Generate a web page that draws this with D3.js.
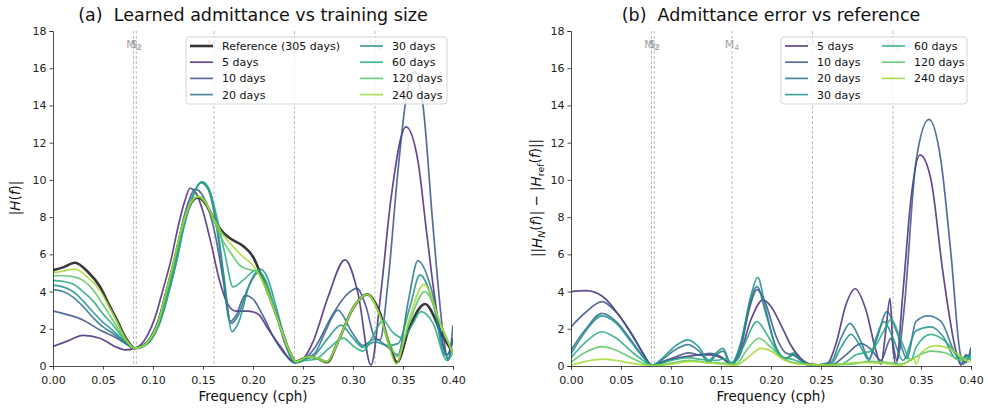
<!DOCTYPE html>
<html><head><meta charset="utf-8">
<script src="https://cdn.jsdelivr.net/npm/d3@7"></script>
<style>
body{margin:0;background:#fff}
svg{font-family:"DejaVu Sans","Noto Sans",sans-serif}
.title{white-space:pre}
</style>
</head><body>
<svg id="chart" width="988" height="408"></svg>
<script>
// ---- data -------------------------------------------------------------
const trainingLabels = ["5 days","10 days","20 days","30 days","60 days","120 days","240 days"];
const referenceLabel = "Reference (305 days)";

// tidal constituents (cph)
const tideNames = ["M2","S2","M4","M6","M8"];
const tideFreqs = [0.0805, 0.0833, 0.1610, 0.2415, 0.3220];

const xTicks = [0,0.05,0.10,0.15,0.20,0.25,0.30,0.35,0.40];
const yTicks = [0,2,4,6,8,10,12,14,16,18];

// |H(f)| for the reference model, [frequency, magnitude]
const refH = [[0,5.15],[0.01,5.3],[0.022,5.55],[0.035,5.05],[0.047,4.26],[0.056,3.3],[0.064,2.47],[0.074,1.4],[0.082,0.95],[0.09,1.08],[0.097,1.45],[0.104,2.15],[0.112,3.7],[0.121,5.6],[0.129,7.4],[0.137,8.65],[0.145,9.05],[0.152,8.75],[0.16,8.0],[0.168,7.3],[0.177,6.86],[0.19,6.45],[0.2,5.87],[0.21,4.62],[0.224,2.65],[0.236,0.86],[0.243,0.23],[0.255,0.5],[0.264,0.42],[0.274,0.2],[0.285,1.3],[0.30,3.1],[0.314,3.85],[0.327,2.83],[0.337,1.04],[0.344,0.2],[0.356,2.0],[0.372,3.33],[0.39,1.58],[0.40,0.72]];

// |H(f)| learned from each training length
const h5 = [[0,1.05],[0.015,1.35],[0.03,1.65],[0.047,1.49],[0.064,1.0],[0.072,0.87],[0.082,0.95],[0.088,1.15],[0.095,1.7],[0.102,2.6],[0.11,4.1],[0.118,5.7],[0.126,7.7],[0.132,8.9],[0.137,9.55],[0.143,9.3],[0.15,8.3],[0.158,6.6],[0.166,4.7],[0.175,3.3],[0.183,2.95],[0.195,2.95],[0.205,2.8],[0.215,2.0],[0.228,1.0],[0.24,0.25],[0.248,0.3],[0.26,1.3],[0.275,3.7],[0.292,5.7],[0.305,3.9],[0.318,0.05],[0.328,4.0],[0.338,9.0],[0.353,12.85],[0.365,11.0],[0.374,7.0],[0.385,2.5],[0.394,0.6],[0.40,1.5]];
const h10 = [[0,2.95],[0.015,2.75],[0.03,2.47],[0.047,1.93],[0.064,1.49],[0.075,1.12],[0.082,0.95],[0.089,1.05],[0.097,1.5],[0.105,2.4],[0.113,3.9],[0.122,5.8],[0.13,7.8],[0.136,8.9],[0.142,9.5],[0.148,9.3],[0.155,8.5],[0.162,7.1],[0.17,4.7],[0.177,2.4],[0.183,2.7],[0.192,3.8],[0.2,3.6],[0.21,2.7],[0.222,1.4],[0.234,0.5],[0.242,0.15],[0.25,0.3],[0.262,1.0],[0.28,2.8],[0.295,3.9],[0.304,4.17],[0.313,3.2],[0.322,1.5],[0.327,1.4],[0.335,4.5],[0.345,10.5],[0.355,15.0],[0.362,15.8],[0.37,14.0],[0.38,7.5],[0.39,1.8],[0.395,0.3],[0.40,2.2]];
const h20 = [[0,4.1],[0.01,4.0],[0.02,3.7],[0.03,3.2],[0.04,2.6],[0.05,2.1],[0.06,1.75],[0.07,1.35],[0.082,0.95],[0.09,1.05],[0.098,1.45],[0.106,2.3],[0.114,3.8],[0.123,5.6],[0.131,7.6],[0.139,9.0],[0.148,9.85],[0.155,9.5],[0.162,8.0],[0.17,5.0],[0.178,2.3],[0.185,2.7],[0.195,4.2],[0.205,5.0],[0.212,4.6],[0.222,3.0],[0.232,1.2],[0.242,0.2],[0.252,0.4],[0.262,0.7],[0.272,1.8],[0.285,3.0],[0.298,1.9],[0.31,1.1],[0.322,1.45],[0.335,1.0],[0.345,0.6],[0.355,3.4],[0.365,5.66],[0.378,4.2],[0.39,1.2],[0.395,0.4],[0.40,1.5]];
const h30 = [[0,4.35],[0.01,4.25],[0.02,4.0],[0.03,3.5],[0.04,2.9],[0.05,2.35],[0.06,1.9],[0.07,1.4],[0.082,0.95],[0.09,1.05],[0.098,1.4],[0.106,2.2],[0.114,3.6],[0.123,5.5],[0.131,7.5],[0.139,9.0],[0.149,9.9],[0.156,9.5],[0.163,8.0],[0.171,4.8],[0.179,1.85],[0.186,2.4],[0.196,4.3],[0.207,5.2],[0.214,4.8],[0.224,3.0],[0.234,1.1],[0.242,0.2],[0.252,0.35],[0.262,0.6],[0.275,1.5],[0.288,2.2],[0.30,1.5],[0.31,1.0],[0.322,1.3],[0.335,1.1],[0.345,1.2],[0.357,3.2],[0.367,4.9],[0.38,3.4],[0.392,0.6],[0.40,0.8]];
const h60 = [[0,4.6],[0.01,4.55],[0.02,4.4],[0.03,4.0],[0.04,3.5],[0.05,2.8],[0.06,2.2],[0.07,1.5],[0.082,0.95],[0.09,1.05],[0.098,1.4],[0.106,2.2],[0.114,3.6],[0.123,5.5],[0.131,7.5],[0.139,9.0],[0.149,9.9],[0.156,9.5],[0.163,8.2],[0.172,6.0],[0.18,4.25],[0.19,4.6],[0.203,5.15],[0.212,4.7],[0.222,3.0],[0.234,1.1],[0.242,0.2],[0.252,0.3],[0.262,0.35],[0.275,0.9],[0.29,1.5],[0.302,1.0],[0.31,0.8],[0.32,1.6],[0.33,2.45],[0.34,1.8],[0.35,1.5],[0.36,2.3],[0.368,2.92],[0.38,2.3],[0.394,0.3],[0.40,0.7]];
const h120 = [[0,4.85],[0.01,4.85],[0.02,4.8],[0.03,4.6],[0.04,4.1],[0.047,3.55],[0.056,2.8],[0.064,2.11],[0.074,1.3],[0.082,0.95],[0.09,1.07],[0.097,1.45],[0.104,2.1],[0.112,3.6],[0.121,5.5],[0.129,7.4],[0.137,8.7],[0.146,9.1],[0.153,8.8],[0.16,7.9],[0.168,6.9],[0.177,6.14],[0.187,5.4],[0.195,5.2],[0.203,5.1],[0.212,4.4],[0.224,2.6],[0.236,0.86],[0.243,0.23],[0.255,0.5],[0.264,0.42],[0.274,0.25],[0.285,1.3],[0.30,3.1],[0.314,3.85],[0.327,2.7],[0.337,1.2],[0.344,0.5],[0.356,2.3],[0.372,4.0],[0.388,2.2],[0.40,0.7]];
const h240 = [[0,5.0],[0.01,5.1],[0.022,5.2],[0.035,4.75],[0.047,4.05],[0.056,3.2],[0.064,2.38],[0.074,1.35],[0.082,0.95],[0.09,1.07],[0.097,1.45],[0.104,2.15],[0.112,3.75],[0.121,5.7],[0.129,7.5],[0.137,8.7],[0.145,9.1],[0.152,8.8],[0.16,8.0],[0.168,7.2],[0.177,6.6],[0.19,5.87],[0.2,5.4],[0.21,4.5],[0.224,2.6],[0.236,0.86],[0.243,0.23],[0.255,0.5],[0.264,0.42],[0.274,0.22],[0.285,1.3],[0.30,3.1],[0.314,3.85],[0.327,2.7],[0.337,0.9],[0.343,0.1],[0.356,2.5],[0.371,4.39],[0.388,2.2],[0.40,0.65]];

// ||H_N(f)| - |H_ref(f)|| for each training length
const e5 = [[0,4.0],[0.015,4.05],[0.032,3.72],[0.049,2.65],[0.066,1.22],[0.075,0.4],[0.081,0.02],[0.09,0.15],[0.1,0.35],[0.115,0.5],[0.13,0.6],[0.14,0.6],[0.15,0.45],[0.16,0.15],[0.168,0.5],[0.18,2.5],[0.192,3.55],[0.2,3.2],[0.21,2.2],[0.22,1.1],[0.23,0.4],[0.24,0.1],[0.255,0.05],[0.265,1.2],[0.275,3.3],[0.284,4.15],[0.295,3.0],[0.305,0.8],[0.31,0.1],[0.315,2.0],[0.319,3.64],[0.322,1.0],[0.325,0.1],[0.332,4.0],[0.34,9.0],[0.349,11.34],[0.36,10.0],[0.372,5.0],[0.385,0.8],[0.39,0.05],[0.395,0.6],[0.40,0.3]];
const e10 = [[0,2.1],[0.015,2.9],[0.031,3.46],[0.045,2.9],[0.06,1.8],[0.072,0.7],[0.081,0.02],[0.09,0.2],[0.105,0.5],[0.118,0.7],[0.128,0.6],[0.139,0.68],[0.15,0.5],[0.16,0.1],[0.17,1.0],[0.178,3.0],[0.186,4.1],[0.195,3.3],[0.205,1.6],[0.215,0.7],[0.222,0.6],[0.23,0.3],[0.24,0.05],[0.26,0.05],[0.275,0.6],[0.29,1.2],[0.3,0.9],[0.31,0.3],[0.32,1.5],[0.326,0.3],[0.333,3.0],[0.345,11.0],[0.358,13.25],[0.37,11.0],[0.38,6.0],[0.39,0.5],[0.395,0.2],[0.40,1.0]];
const e20 = [[0,0.85],[0.015,2.0],[0.031,2.83],[0.045,2.4],[0.06,1.4],[0.072,0.5],[0.081,0.02],[0.09,0.3],[0.105,0.9],[0.117,1.15],[0.128,0.8],[0.138,0.2],[0.145,0.6],[0.152,0.8],[0.16,0.1],[0.17,1.2],[0.178,3.2],[0.186,4.26],[0.195,2.8],[0.205,1.0],[0.215,0.4],[0.222,0.6],[0.23,0.3],[0.24,0.05],[0.26,0.2],[0.27,1.5],[0.279,2.29],[0.29,1.3],[0.298,0.4],[0.306,1.5],[0.316,2.92],[0.326,1.8],[0.336,0.4],[0.345,2.4],[0.357,2.69],[0.37,2.4],[0.383,0.8],[0.392,0.1],[0.40,0.8]];
const e30 = [[0,0.65],[0.015,1.9],[0.031,2.69],[0.045,2.3],[0.06,1.3],[0.072,0.5],[0.081,0.02],[0.09,0.35],[0.105,1.1],[0.117,1.4],[0.128,1.0],[0.138,0.3],[0.145,0.7],[0.152,0.95],[0.16,0.1],[0.17,1.3],[0.18,3.8],[0.1867,4.76],[0.195,3.0],[0.205,1.0],[0.215,0.4],[0.222,0.7],[0.23,0.3],[0.24,0.05],[0.26,0.1],[0.27,1.0],[0.28,1.7],[0.29,1.0],[0.298,0.3],[0.305,1.5],[0.313,2.38],[0.322,1.5],[0.332,0.3],[0.345,1.9],[0.36,2.1],[0.372,1.6],[0.385,0.4],[0.40,0.6]];
const e60 = [[0,0.45],[0.015,1.3],[0.031,1.84],[0.045,1.5],[0.06,0.8],[0.072,0.3],[0.081,0.02],[0.1,0.3],[0.117,0.45],[0.13,0.35],[0.145,0.3],[0.155,0.4],[0.162,0.1],[0.172,1.0],[0.186,2.38],[0.197,1.6],[0.21,0.5],[0.222,0.35],[0.24,0.05],[0.27,0.1],[0.285,0.6],[0.3,0.8],[0.312,1.8],[0.32,2.5],[0.33,1.4],[0.34,0.3],[0.345,1.0],[0.36,1.7],[0.375,1.3],[0.39,0.4],[0.40,0.5]];
const e120 = [[0,0.2],[0.015,0.75],[0.031,1.04],[0.045,0.85],[0.06,0.45],[0.072,0.15],[0.081,0.02],[0.1,0.15],[0.117,0.3],[0.135,0.2],[0.155,0.15],[0.165,0.1],[0.175,0.8],[0.188,1.49],[0.2,1.0],[0.212,0.4],[0.225,0.15],[0.25,0.05],[0.28,0.1],[0.3,0.25],[0.315,0.2],[0.33,0.1],[0.345,0.5],[0.36,0.8],[0.375,0.7],[0.39,0.3],[0.40,0.4]];
const e240 = [[0,0.05],[0.015,0.25],[0.031,0.37],[0.045,0.3],[0.06,0.15],[0.081,0.02],[0.1,0.1],[0.12,0.25],[0.14,0.15],[0.165,0.05],[0.178,0.5],[0.19,0.95],[0.2,0.8],[0.212,0.35],[0.23,0.1],[0.26,0.05],[0.29,0.2],[0.31,0.15],[0.33,0.05],[0.343,0.4],[0.345,0.1],[0.35,0.7],[0.365,1.1],[0.38,0.9],[0.395,0.3],[0.40,0.2]];

const learned = [h5,h10,h20,h30,h60,h120,h240];
const errors  = [e5,e10,e20,e30,e60,e120,e240];

// ---- drawing ----------------------------------------------------------
const svg = d3.select("#chart");
const colorPos = [0.12,0.25,0.38,0.5,0.62,0.74,0.86];
const colors = colorPos.map(t => d3.interpolateViridis(t));
const plotTop = 31, plotBottom = 366;

function subText(sel, base, sub) {
  sel.append("tspan").text(base);
  sel.append("tspan").text(sub).attr("font-size","0.7em").attr("dy","0.25em");
}

function panel(left, right, title, lines, withRef) {
  const x = d3.scaleLinear().domain([0,0.40]).range([left,right]);
  const y = d3.scaleLinear().domain([0,18]).range([plotBottom,plotTop]);
  const g = svg.append("g");

  const clipId = "clip" + left;
  svg.append("clipPath").attr("id", clipId).append("rect")
     .attr("x", left).attr("y", plotTop - 2).attr("width", right - left).attr("height", plotBottom - plotTop + 2);

  // constituent markers
  tideFreqs.forEach((f, i) => {
    g.append("line").attr("x1", x(f)).attr("x2", x(f)).attr("y1", plotTop).attr("y2", plotBottom)
      .attr("stroke", "#9a9a9a").attr("stroke-width", 0.8).attr("stroke-dasharray", "3,2")
      .attr("opacity", 0.8);
    const t = g.append("text").attr("x", x(f)).attr("y", 48).attr("text-anchor", "middle")
      .attr("font-size", 11).attr("fill", "#999").attr("opacity", 0.9);
    subText(t, tideNames[i][0], tideNames[i].slice(1));
  });

  const line = d3.line().x(d => x(d[0])).y(d => y(d[1])).curve(d3.curveMonotoneX);
  const lg = g.append("g").attr("clip-path", `url(#${clipId})`);
  if (withRef) {
    lg.append("path").datum(refH).attr("d", line).attr("fill", "none")
      .attr("stroke", "#222").attr("stroke-width", 2.6).attr("opacity", 0.9);
  }
  lines.forEach((s, i) => {
    lg.append("path").datum(s).attr("d", line).attr("fill", "none")
      .attr("stroke", colors[i]).attr("stroke-width", 1.7).attr("opacity", 0.85);
  });

  // axes
  const xa = g.append("g").attr("transform", `translate(0,${plotBottom})`)
    .call(d3.axisBottom(x).tickValues(xTicks).tickFormat(d3.format(".2f")).tickSizeOuter(0).tickSize(3.5));
  const ya = g.append("g").attr("transform", `translate(${left},0)`)
    .call(d3.axisLeft(y).tickValues(yTicks).tickSizeOuter(0).tickSize(3.5));
  [xa, ya].forEach(a => {
    a.selectAll("text").attr("font-size", 11).attr("fill", "#222").attr("font-family", "DejaVu Sans");
    a.selectAll("line").attr("stroke", "#222").attr("stroke-width", 0.8);
    a.select(".domain").attr("stroke", "#222").attr("stroke-width", 0.8);
  });
  xa.selectAll("text").attr("dy", "1.05em");

  g.append("text").attr("class", "title").attr("x", (left + right) / 2).attr("y", 21)
    .attr("text-anchor", "middle").attr("font-size", 17.5).attr("fill", "#111").text(title);
  g.append("text").attr("x", (left + right) / 2).attr("y", 401).attr("text-anchor", "middle")
    .attr("font-size", 13.5).attr("fill", "#111").text("Frequency (cph)");
  return {g, x, y};
}

// ---- panel (a)
const pa = panel(53, 453, "(a)  Learned admittance vs training size", learned, true);
{
  const t = pa.g.append("text").attr("transform", "translate(20,198) rotate(-90)")
    .attr("text-anchor", "middle").attr("font-size", 13.5).attr("fill", "#111");
  t.append("tspan").text("|");
  t.append("tspan").text("H").attr("font-style", "italic");
  t.append("tspan").text("(");
  t.append("tspan").text("f").attr("font-style", "italic");
  t.append("tspan").text(")|");
}

// ---- panel (b)
const pb = panel(571, 971, "(b)  Admittance error vs reference", errors, false);
{
  const t = pb.g.append("text").attr("transform", "translate(542,198) rotate(-90)")
    .attr("text-anchor", "middle").attr("font-size", 13.5).attr("fill", "#111");
  t.append("tspan").text("||");
  t.append("tspan").text("H").attr("font-style", "italic");
  t.append("tspan").text("N").attr("font-style", "italic").attr("font-size", "0.7em").attr("dy", "0.3em");
  t.append("tspan").text("(").attr("dy", "-0.3em");
  t.append("tspan").text("f").attr("font-style", "italic");
  t.append("tspan").text(")| \u2212 |");
  t.append("tspan").text("H").attr("font-style", "italic");
  t.append("tspan").text("ref").attr("font-size", "0.7em").attr("dy", "0.3em");
  t.append("tspan").text("(").attr("dy", "-0.3em");
  t.append("tspan").text("f").attr("font-style", "italic");
  t.append("tspan").text(")||");
}

// ---- legends
function legend(x0, y0, w, entries, col2x) {
  const lg = svg.append("g");
  lg.append("rect").attr("x", x0).attr("y", y0).attr("width", w).attr("height", 67)
    .attr("rx", 3).attr("fill", "#fff").attr("fill-opacity", 0.8)
    .attr("stroke", "#cccccc").attr("stroke-width", 0.8);
  entries.forEach((e, i) => {
    const col = Math.floor(i / 4), row = i % 4;
    const lx = x0 + 4 + col * col2x, ly = y0 + 9 + row * 16.2;
    lg.append("line").attr("x1", lx).attr("x2", lx + 23).attr("y1", ly).attr("y2", ly)
      .attr("stroke", e.color).attr("stroke-width", e.w).attr("opacity", e.op);
    lg.append("text").attr("x", lx + 32).attr("y", ly + 4).attr("font-size", 11)
      .attr("fill", "#111").text(e.label);
  });
}
const entriesA = [{label: referenceLabel, color: "#222", w: 2.6, op: 0.9}]
  .concat(trainingLabels.map((l, i) => ({label: l, color: colors[i], w: 1.7, op: 0.85})));
legend(186, 37, 261, entriesA, 170);
const entriesB = trainingLabels.map((l, i) => ({label: l, color: colors[i], w: 1.7, op: 0.85}));
legend(781, 37, 186, entriesB, 97);
</script>
</body></html>
